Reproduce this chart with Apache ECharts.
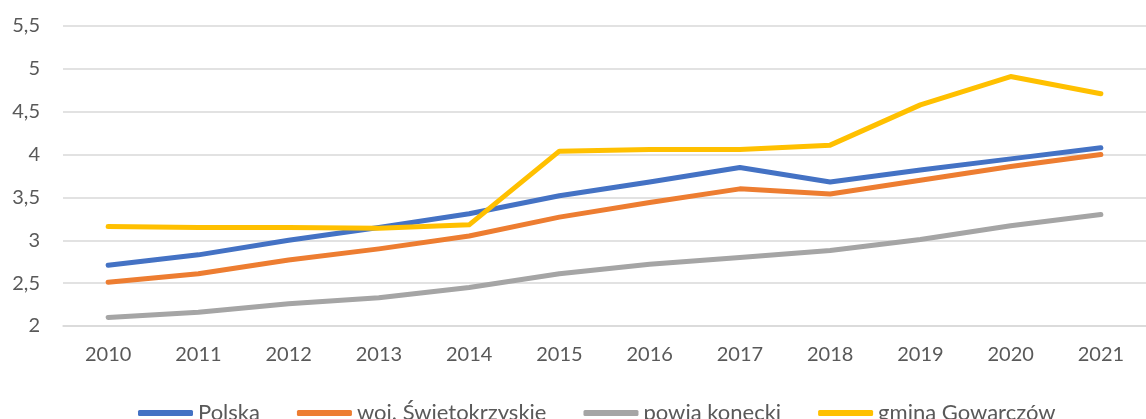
<!DOCTYPE html>
<html>
<head>
<meta charset="utf-8">
<script src="https://cdn.jsdelivr.net/npm/echarts@6/dist/echarts.min.js"></script>
<style>
  html, body { margin: 0; padding: 0; background: #fff; }
  #chart { width: 1146px; height: 419px; }
</style>
</head>
<body>
<div id="chart"></div>
<script>
var years = ['2010', '2011', '2012', '2013', '2014', '2015', '2016', '2017', '2018', '2019', '2020', '2021']
var polska = [2.71, 2.83, 3.0, 3.15, 3.31, 3.52, 3.68, 3.85, 3.68, 3.82, 3.95, 4.08]
var wojSwietokrzyskie = [2.51, 2.61, 2.77, 2.9, 3.05, 3.27, 3.44, 3.6, 3.54, 3.7, 3.86, 4.0]
var powiatKonecki = [2.1, 2.16, 2.26, 2.33, 2.45, 2.61, 2.72, 2.8, 2.88, 3.01, 3.17, 3.3]
var gminaGowarczow = [3.16, 3.15, 3.15, 3.14, 3.18, 4.04, 4.06, 4.06, 4.11, 4.58, 4.91, 4.71]

var fontFamily = 'Lato, "Open Sans", sans-serif'
var textColor = '#595959'

function makeSeries(name, data, color) {
  return {
    name: name,
    type: 'line',
    data: data,
    symbol: 'none',
    smooth: false,
    color: color,
    lineStyle: { width: 5, color: color, cap: 'round', join: 'round' }
  }
}

var chart = echarts.init(document.getElementById('chart'))
chart.setOption({
  backgroundColor: '#fff',
  animation: false,
  grid: {
    left: 63,
    top: 26,
    width: 1096,
    height: 300,
    containLabel: false
  },
  xAxis: {
    type: 'category',
    data: years,
    boundaryGap: true,
    axisTick: { show: false },
    axisLine: { show: true, lineStyle: { color: '#d9d9d9', width: 1.5 } },
    axisLabel: {
      color: textColor,
      fontSize: 20,
      fontFamily: fontFamily,
      margin: 19
    }
  },
  yAxis: {
    type: 'value',
    min: 2,
    max: 5.5,
    interval: 0.5,
    axisLine: { show: false },
    axisTick: { show: false },
    splitLine: { lineStyle: { color: '#d9d9d9', width: 1.5 } },
    axisLabel: {
      color: textColor,
      fontSize: 20,
      fontFamily: fontFamily,
      margin: 23,
      formatter: function(v) {
        return String(v).replace('.', ',')
      }
    }
  },
  legend: {
    left: 133,
    top: 397,
    itemWidth: 55,
    itemHeight: 6,
    itemGap: 37,
    icon: 'roundRect',
    textStyle: {
      color: textColor,
      fontSize: 22,
      fontFamily: fontFamily
    },
    data: ['Polska', 'woj. Świetokrzyskie', 'powia konecki', 'gmina Gowarczów']
  },
  series: [
    makeSeries('Polska', polska, '#4472C4'),
    makeSeries('woj. Świetokrzyskie', wojSwietokrzyskie, '#ED7D31'),
    makeSeries('powia konecki', powiatKonecki, '#A5A5A5'),
    makeSeries('gmina Gowarczów', gminaGowarczow, '#FFC000')
  ]
})
</script>
</body>
</html>
